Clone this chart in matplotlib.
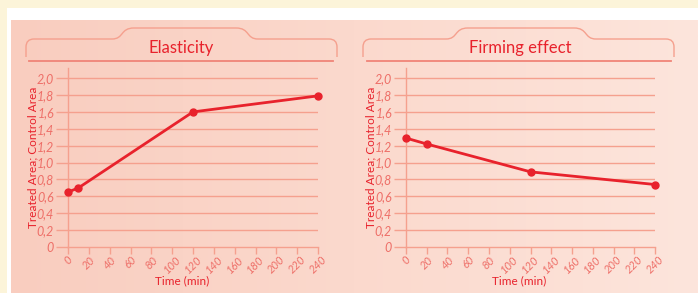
import numpy as np
import matplotlib.pyplot as plt
from matplotlib.path import Path
from matplotlib.patches import PathPatch, Rectangle
from matplotlib.colors import LinearSegmentedColormap

# data
time_ticks = list(range(0, 241, 20))
y_ticks = [0, 0.2, 0.4, 0.6, 0.8, 1.0, 1.2, 1.4, 1.6, 1.8, 2.0]
y_labels = ["0", "0,2", "0,4", "0,6", "0,8", "1,0", "1,2", "1,4", "1,6", "1,8", "2,0"]

elasticity_t = [0, 10, 120, 240]
elasticity_v = [0.65, 0.70, 1.60, 1.79]

firming_t = [0, 20, 120, 240]
firming_v = [1.29, 1.22, 0.89, 0.74]

titles = ["Elasticity", "Firming effect"]

RED = "#e8222c"
SALMON = "#f5a08e"
TICKTXT = "#ee6f68"
FONT = ["Lato", "DejaVu Sans"]

W, H = 698, 293
fig = plt.figure(figsize=(W / 100, H / 100), dpi=100, facecolor="#fcf4d9")

# background layer in pixel coordinates
bg = fig.add_axes([0, 0, 1, 1], zorder=0)
bg.axis("off")
bg.add_patch(Rectangle((7, 8), W, H, color="white", lw=0))
grad = np.linspace(0, 1, 256)[None, :]
cmap = LinearSegmentedColormap.from_list("pink", ["#f9cdbf", "#fbd9cd", "#fde5dc"])
bg.imshow(grad, cmap=cmap, extent=(11, W, H, 20), aspect="auto", zorder=1)
bg.set_xlim(0, W)
bg.set_ylim(H, 0)


def bracket(x0, x1, b0, b1):
    top, bump, bot, r = 39, 28, 57, 8
    verts = [(x0, bot), (x0, top + r), (x0, top), (x0 + r, top),
             (b0, top), (b0 + 12, top), (b0 + 8, bump), (b0 + 22, bump),
             (b1 - 22, bump), (b1 - 8, bump), (b1 - 12, top), (b1, top),
             (x1 - r, top), (x1, top), (x1, top + r), (x1, bot)]
    codes = [Path.MOVETO, Path.LINETO, Path.CURVE3, Path.CURVE3,
             Path.LINETO, Path.CURVE4, Path.CURVE4, Path.CURVE4,
             Path.LINETO, Path.CURVE4, Path.CURVE4, Path.CURVE4,
             Path.LINETO, Path.CURVE3, Path.CURVE3, Path.LINETO]
    bg.add_patch(PathPatch(Path(verts, codes), fill=False, ec=SALMON, lw=1.0, zorder=2))


bracket(26, 337, 112, 258)
bracket(363, 674, 446, 596)
bg.plot([29, 333], [61, 61], color="#f08478", lw=1.3, zorder=2)
bg.plot([367, 671], [61, 61], color="#f08478", lw=1.3, zorder=2)
bg.text(181, 48, titles[0], color=RED, fontsize=12, family=FONT, ha="center", va="center", zorder=3)
bg.text(520, 48, titles[1], color=RED, fontsize=12, family=FONT, ha="center", va="center", zorder=3)

panels = [
    (68, 318, 33, 182, elasticity_t, elasticity_v),
    (406, 655, 371, 519, firming_t, firming_v),
]

for left, right, ylab_x, xlab_x, t, v in panels:
    ax = fig.add_axes([left / W, 46 / H, (right - left) / W, 179 / H], zorder=5)
    ax.patch.set_alpha(0)
    ax.set_xlim(0, 240)
    ax.set_ylim(0, 2.12)
    for s in ["top", "right"]:
        ax.spines[s].set_visible(False)
    for s in ["left", "bottom"]:
        ax.spines[s].set_color(SALMON)
        ax.spines[s].set_linewidth(1.0)
    ax.set_yticks(y_ticks)
    ax.set_yticklabels(y_labels)
    ax.set_xticks(time_ticks)
    ax.set_xticklabels([str(x) for x in time_ticks], rotation=45, ha="center", va="top")
    ax.tick_params(axis="y", length=9, width=1, color=SALMON, pad=1)
    ax.tick_params(axis="x", length=5, width=1, color=SALMON, pad=0)
    for lab in ax.get_yticklabels():
        lab.set_fontsize(9)
    for lab in ax.get_xticklabels():
        lab.set_fontsize(8)
    for lab in ax.get_xticklabels() + ax.get_yticklabels():
        lab.set_color(TICKTXT)
        lab.set_fontstyle("italic")
        lab.set_family(FONT)
    for y in y_ticks[1:]:
        ax.axhline(y, color=SALMON, lw=1.0, zorder=1)
    ax.plot(t, v, color=RED, lw=2, marker="o", ms=5, zorder=3, clip_on=False)
    ax.set_xlabel("Time (min)", color=RED, fontsize=8.5, family=FONT)
    ax.set_ylabel("Treated Area; Control Area", color=RED, fontsize=8.5, family=FONT)
    ax.yaxis.set_label_coords((ylab_x - left) / (right - left), 0.5)
    ax.xaxis.set_label_coords((xlab_x - left) / (right - left), -(281 - 247) / 179)
    ax.xaxis.label.set_va("center")
    ax.yaxis.label.set_va("center")

fig.savefig("out.png", dpi=100, facecolor=fig.get_facecolor())
